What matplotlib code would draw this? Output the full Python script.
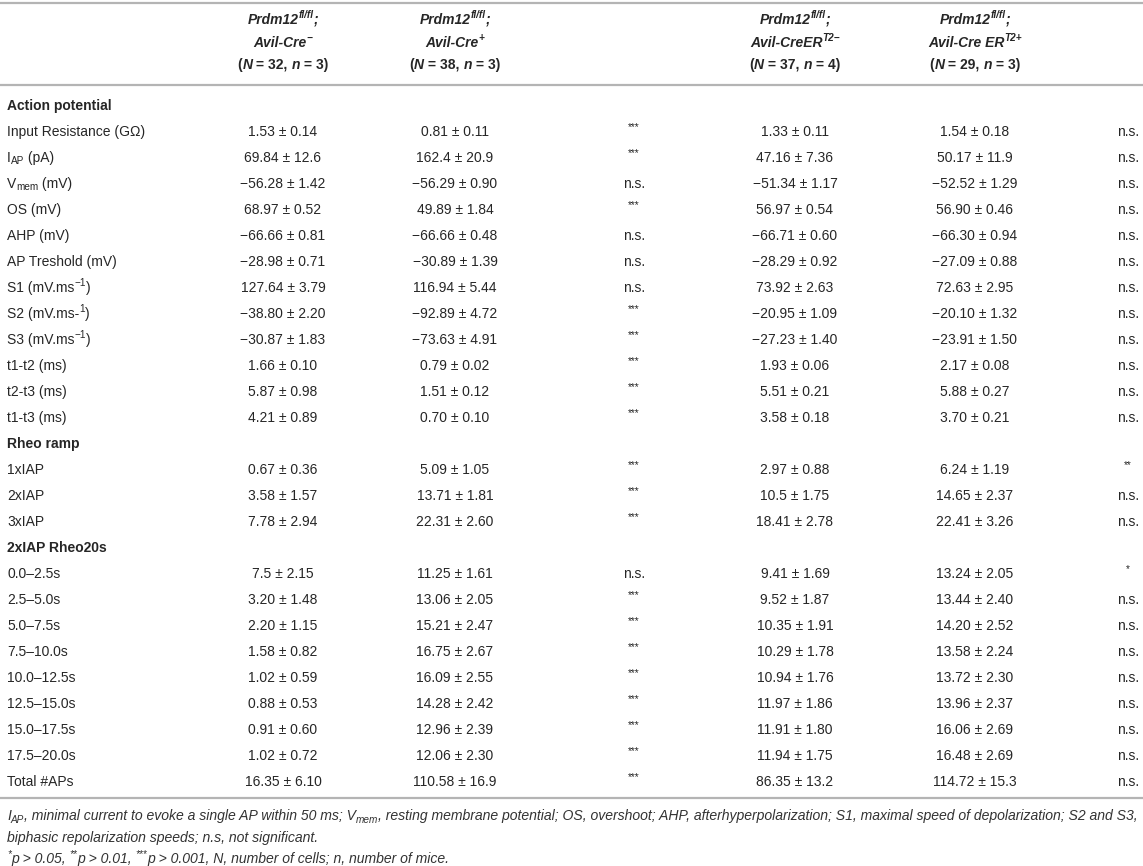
import matplotlib
matplotlib.use('Agg')
import matplotlib.pyplot as plt
from matplotlib.lines import Line2D

plt.rcParams['font.family'] = ['Liberation Sans', 'DejaVu Sans']

# ---- table content ----
sections = {0: 'Action potential', 13: 'Rheo ramp', 17: '2xIAP Rheo20s'}

row_labels = [
    [('Input Resistance (GΩ)', {})],
    [('I', {}), ('AP', {'sub': True}), (' (pA)', {})],
    [('V', {}), ('mem', {'sub': True}), (' (mV)', {})],
    [('OS (mV)', {})],
    [('AHP (mV)', {})],
    [('AP Treshold (mV)', {})],
    [('S1 (mV.ms', {}), ('−1', {'sup': True}), (')', {})],
    [('S2 (mV.ms-', {}), ('1', {'sup': True}), (')', {})],
    [('S3 (mV.ms', {}), ('−1', {'sup': True}), (')', {})],
    [('t1-t2 (ms)', {})],
    [('t2-t3 (ms)', {})],
    [('t1-t3 (ms)', {})],
    [('1xIAP', {})],
    [('2xIAP', {})],
    [('3xIAP', {})],
    [('0.0–2.5s', {})],
    [('2.5–5.0s', {})],
    [('5.0–7.5s', {})],
    [('7.5–10.0s', {})],
    [('10.0–12.5s', {})],
    [('12.5–15.0s', {})],
    [('15.0–17.5s', {})],
    [('17.5–20.0s', {})],
    [('Total #APs', {})],
]

cre_neg = ['1.53 ± 0.14', '69.84 ± 12.6', '−56.28 ± 1.42', '68.97 ± 0.52', '−66.66 ± 0.81',
           '−28.98 ± 0.71', '127.64 ± 3.79', '−38.80 ± 2.20', '−30.87 ± 1.83', '1.66 ± 0.10',
           '5.87 ± 0.98', '4.21 ± 0.89', '0.67 ± 0.36', '3.58 ± 1.57', '7.78 ± 2.94',
           '7.5 ± 2.15', '3.20 ± 1.48', '2.20 ± 1.15', '1.58 ± 0.82', '1.02 ± 0.59',
           '0.88 ± 0.53', '0.91 ± 0.60', '1.02 ± 0.72', '16.35 ± 6.10']
cre_pos = ['0.81 ± 0.11', '162.4 ± 20.9', '−56.29 ± 0.90', '49.89 ± 1.84', '−66.66 ± 0.48',
           '−30.89 ± 1.39', '116.94 ± 5.44', '−92.89 ± 4.72', '−73.63 ± 4.91', '0.79 ± 0.02',
           '1.51 ± 0.12', '0.70 ± 0.10', '5.09 ± 1.05', '13.71 ± 1.81', '22.31 ± 2.60',
           '11.25 ± 1.61', '13.06 ± 2.05', '15.21 ± 2.47', '16.75 ± 2.67', '16.09 ± 2.55',
           '14.28 ± 2.42', '12.96 ± 2.39', '12.06 ± 2.30', '110.58 ± 16.9']
sig_cre = ['***', '***', 'n.s.', '***', 'n.s.', 'n.s.', 'n.s.', '***', '***', '***', '***', '***',
           '***', '***', '***', 'n.s.', '***', '***', '***', '***', '***', '***', '***', '***']
ert2_neg = ['1.33 ± 0.11', '47.16 ± 7.36', '−51.34 ± 1.17', '56.97 ± 0.54', '−66.71 ± 0.60',
            '−28.29 ± 0.92', '73.92 ± 2.63', '−20.95 ± 1.09', '−27.23 ± 1.40', '1.93 ± 0.06',
            '5.51 ± 0.21', '3.58 ± 0.18', '2.97 ± 0.88', '10.5 ± 1.75', '18.41 ± 2.78',
            '9.41 ± 1.69', '9.52 ± 1.87', '10.35 ± 1.91', '10.29 ± 1.78', '10.94 ± 1.76',
            '11.97 ± 1.86', '11.91 ± 1.80', '11.94 ± 1.75', '86.35 ± 13.2']
ert2_pos = ['1.54 ± 0.18', '50.17 ± 11.9', '−52.52 ± 1.29', '56.90 ± 0.46', '−66.30 ± 0.94',
            '−27.09 ± 0.88', '72.63 ± 2.95', '−20.10 ± 1.32', '−23.91 ± 1.50', '2.17 ± 0.08',
            '5.88 ± 0.27', '3.70 ± 0.21', '6.24 ± 1.19', '14.65 ± 2.37', '22.41 ± 3.26',
            '13.24 ± 2.05', '13.44 ± 2.40', '14.20 ± 2.52', '13.58 ± 2.24', '13.72 ± 2.30',
            '13.96 ± 2.37', '16.06 ± 2.69', '16.48 ± 2.69', '114.72 ± 15.3']
sig_ert2 = ['n.s.'] * 12 + ['**', 'n.s.', 'n.s.', '*'] + ['n.s.'] * 8

headers = [
    ('Avil-Cre', '−', 'N = 32', 'n = 3'),
    ('Avil-Cre', '+', 'N = 38', 'n = 3'),
    ('Avil-CreER', 'T2−', 'N = 37', 'n = 4'),
    ('Avil-Cre ER', 'T2+', 'N = 29', 'n = 3'),
]

footnotes = [
    [('I', {}), ('AP', {'sub': True}),
     (', minimal current to evoke a single AP within 50 ms; V', {}), ('mem', {'sub': True}),
     (', resting membrane potential; OS, overshoot; AHP, afterhyperpolarization; '
      'S1, maximal speed of depolarization; S2 and S3,', {})],
    [('biphasic repolarization speeds; n.s, not significant.', {})],
    [('*', {'sup': True}), ('p > 0.05, ', {}), ('**', {'sup': True}), ('p > 0.01, ', {}),
     ('***', {'sup': True}), ('p > 0.001, N, number of cells; n, number of mice.', {})],
]

# ---- layout ----
W, H = 1143, 866
INK = '#262626'
RULE = '#b4b4b4'
fig = plt.figure(figsize=(W / 100, H / 100), dpi=100)
renderer = fig.canvas.get_renderer()


def measure(txt, kw):
    a = fig.text(0, 0, '|' + txt + '|', transform=None, **kw)
    b = fig.text(0, 0, '||', transform=None, **kw)
    w = a.get_window_extent(renderer).width - b.get_window_extent(renderer).width
    a.remove()
    b.remove()
    return w


def rich(x, y, pieces, ha='left', size=10, color=INK, style='normal', weight='normal'):
    items = []
    for txt, o in pieces:
        fs = size
        dy = 0.0
        if o.get('sup'):
            fs = size * 0.72
            dy = size * 0.42 * 100 / 72
        if o.get('sub'):
            fs = size * 0.72
            dy = -size * 0.18 * 100 / 72
        kw = dict(fontsize=fs, fontstyle=o.get('style', style),
                  fontweight=o.get('weight', weight), color=color)
        items.append((txt, kw, dy, measure(txt, kw)))
    total = sum(it[3] for it in items)
    x0 = x - total / 2 if ha == 'center' else (x - total if ha == 'right' else x)
    base = H - (y + 0.358 * size * 100 / 72)
    for txt, kw, dy, w in items:
        fig.text(x0, base + dy, txt, transform=None, ha='left', va='baseline', **kw)
        x0 += w
    return total


def rule(y):
    fig.add_artist(Line2D([0, 1], [1 - y / H] * 2, transform=fig.transFigure,
                          color=RULE, lw=1.6))


rule(3)
rule(85)
rule(798)

data_x = [283, 455, 795, 975]
sig_x = [634, 1128]
header_y = [19, 42, 64]

for cx, (cre, sup, N, n) in zip(data_x, headers):
    bi = dict(style='italic', weight='bold')
    rich(cx, header_y[0], [('Prdm12', bi), ('fl/fl', dict(bi, sup=True)), (';', bi)],
         ha='center')
    rich(cx, header_y[1], [(cre, bi), (sup, dict(bi, sup=True))], ha='center')
    Nn, Nv = N.split(' = ')
    nn, nv = n.split(' = ')
    rich(cx, header_y[2], [('(', {}), (Nn, {'style': 'italic'}), (' = ' + Nv + ', ', {}),
                           (nn, {'style': 'italic'}), (' = ' + nv + ')', {})],
         ha='center', weight='bold')

y0, step = 105, 26.0
k = 0
for i in range(27):
    y = y0 + i * step
    if i in sections:
        rich(7, y, [(sections[i], {})], weight='bold')
        continue
    rich(7, y, row_labels[k])
    for cx, col in zip(data_x, [cre_neg, cre_pos, ert2_neg, ert2_pos]):
        rich(cx, y, [(col[k], {})], ha='center')
    for sx, col in zip(sig_x, [sig_cre, sig_ert2]):
        s = col[k]
        if s.startswith('*'):
            rich(sx, y, [(s, {'sup': True})], ha='center')
        else:
            rich(sx, y, [(s, {})], ha='center')
    k += 1

foot_y = [815, 837, 858]
for fy, pieces in zip(foot_y, footnotes):
    rich(7, fy, pieces, size=10.05, style='italic', color='#333333')

fig.savefig('out.png', dpi=100)
